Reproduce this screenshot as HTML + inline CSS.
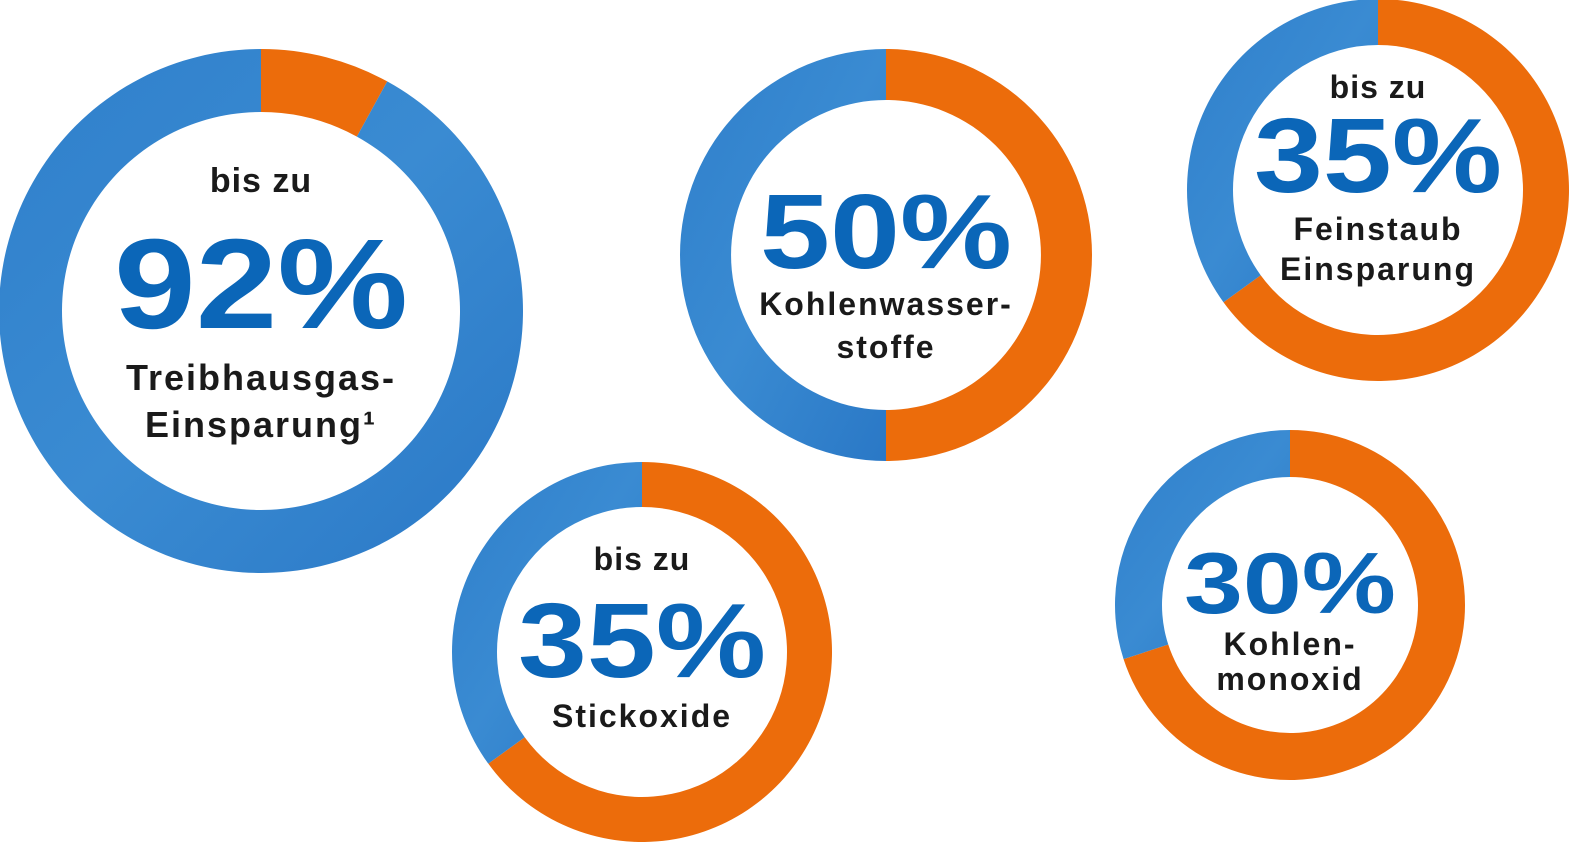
<!DOCTYPE html>
<html><head><meta charset="utf-8">
<style>
html,body{margin:0;padding:0;background:#fff;width:1573px;height:848px;overflow:hidden}
svg{display:block}
text{font-family:"Liberation Sans","DejaVu Sans",sans-serif;font-weight:bold;text-anchor:middle}
.lbl{fill:#1a1a1a}
.num{fill:#0b66b8}
</style></head>
<body>
<svg id="chart" width="1573" height="848" viewBox="0 0 1573 848">
<defs>
<linearGradient id="sky" x1="0" y1="0" x2="1" y2="1">
<stop offset="0" stop-color="#2f7fcb"/>
<stop offset="0.5" stop-color="#3a8bd2"/>
<stop offset="1" stop-color="#2a78c6"/>
</linearGradient>
</defs>
</svg>
<script>
// data
const categories = ["Treibhausgas-Einsparung", "Kohlenwasserstoffe", "Feinstaub Einsparung", "Stickoxide", "Kohlenmonoxid"];
const savings = [92, 50, 35, 35, 30];
const prefixes = ["bis zu", "", "bis zu", "bis zu", ""];
const labelLines = [["Treibhausgas-", "Einsparung¹"], ["Kohlenwasser-", "stoffe"], ["Feinstaub", "Einsparung"], ["Stickoxide"], ["Kohlen-", "monoxid"]];
// layout
const layout = [
 {cx:261, cy:311, ro:262, ri:199, pre:192, preS:34, numY:328, numS:128, numW:294, lines:[390,437], lS:36},
 {cx:886, cy:255, ro:206, ri:155, pre:0, preS:0, numY:268, numS:106, numW:252, lines:[315,358], lS:32},
 {cx:1378, cy:190, ro:191, ri:145, pre:98, preS:32, numY:192, numS:106, numW:248, lines:[240,280], lS:32},
 {cx:642, cy:652, ro:190, ri:145, pre:570, preS:32, numY:677, numS:106, numW:248, lines:[727], lS:32},
 {cx:1290, cy:605, ro:175, ri:128, pre:0, preS:0, numY:613, numS:86, numW:212, lines:[655,690], lS:32}
];
const NS = "http://www.w3.org/2000/svg";
const svg = document.getElementById("chart");
function pt(cx, cy, r, frac){ const a = frac*2*Math.PI; return [cx + r*Math.sin(a), cy - r*Math.cos(a)]; }
function arc(cx, cy, ro, ri, f0, f1){
  if (f1 - f0 >= 0.9999) {
    return `M${cx-ro},${cy}A${ro},${ro} 0 1 1 ${cx+ro},${cy}A${ro},${ro} 0 1 1 ${cx-ro},${cy}Z`+
           `M${cx-ri},${cy}A${ri},${ri} 0 1 0 ${cx+ri},${cy}A${ri},${ri} 0 1 0 ${cx-ri},${cy}Z`;
  }
  const large = (f1 - f0) > 0.5 ? 1 : 0;
  const [x0,y0] = pt(cx,cy,ro,f0), [x1,y1] = pt(cx,cy,ro,f1);
  const [x2,y2] = pt(cx,cy,ri,f1), [x3,y3] = pt(cx,cy,ri,f0);
  return `M${x0},${y0}A${ro},${ro} 0 ${large} 1 ${x1},${y1}L${x2},${y2}A${ri},${ri} 0 ${large} 0 ${x3},${y3}Z`;
}
function txt(x, y, s, size, cls){
  const t = document.createElementNS(NS, "text");
  t.setAttribute("x", x); t.setAttribute("y", y);
  t.setAttribute("font-size", size); t.setAttribute("class", cls);
  t.textContent = s;
  return t;
}
savings.forEach((v, i) => {
  const L = layout[i];
  const g = document.createElementNS(NS, "g");
  
  
  const orangeFrac = (100 - v) / 100;
  const o = document.createElementNS(NS, "path");
  o.setAttribute("d", arc(L.cx, L.cy, L.ro, L.ri, 0, orangeFrac));
  o.setAttribute("fill", "#ec6c0b");
  
  
  g.appendChild(o);
  const b = document.createElementNS(NS, "path");
  b.setAttribute("d", arc(L.cx, L.cy, L.ro, L.ri, orangeFrac, 1));
  b.setAttribute("fill", "url(#sky)");
  
  
  g.appendChild(b);
  if (prefixes[i]) {
    const p = txt(L.cx, L.pre, prefixes[i], L.preS, "lbl");
    p.setAttribute("letter-spacing", "1");
    
    
    g.appendChild(p);
  }
  const n = txt(L.cx, L.numY, v + "%", L.numS, "num");
  n.setAttribute("textLength", L.numW);
  n.setAttribute("lengthAdjust", "spacingAndGlyphs");
  
  
  g.appendChild(n);
  labelLines[i].forEach((s, k) => {
    const t = txt(L.cx, L.lines[k], s, L.lS, "lbl");
    t.setAttribute("letter-spacing", "2");
    
    
    g.appendChild(t);
  });
  svg.appendChild(g);
});
</script>
</body></html>
